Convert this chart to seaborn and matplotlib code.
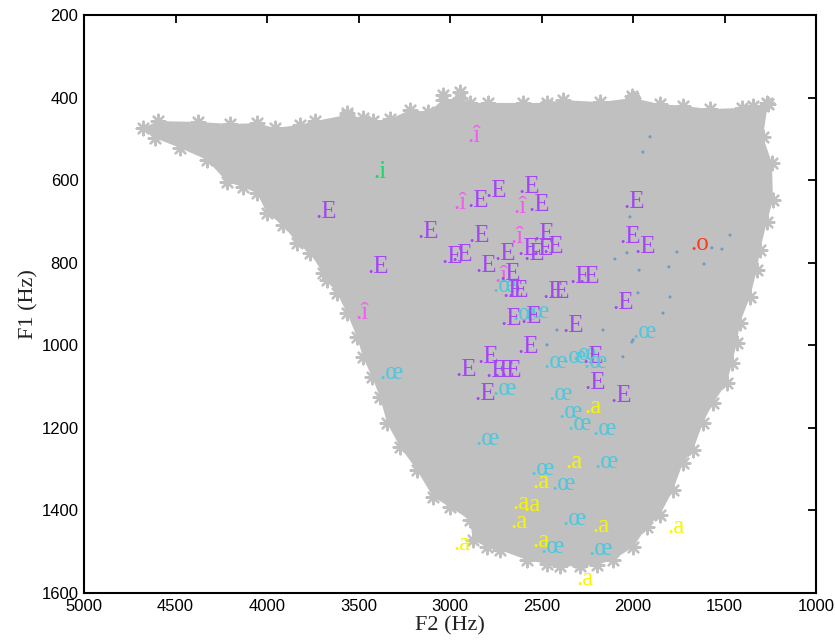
import numpy as np
import pandas as pd
import matplotlib
matplotlib.use("Agg")
import matplotlib.pyplot as plt
import seaborn as sns

# ---------------- data ----------------
# outline of the grey formant cloud (F2, F1) in Hz
cloud_f2 = [4678, 4596, 4377, 4202, 4055, 3956, 3820, 3738, 3563, 3476, 3421, 3328,
            3219, 3120, 3038, 2946, 2891, 2793, 2601, 2470, 2383, 2181, 2000, 1853,
            1727, 1580, 1405, 1263, 1290, 1241, 1235, 1268, 1306, 1323, 1361, 1416,
            1432, 1459, 1487, 1563, 1618, 1672, 1727, 1782, 1853, 1924, 2000, 2110,
            2197, 2290, 2399, 2470, 2579, 2727, 2798, 2875, 2891, 3000, 3093, 3181,
            3273, 3344, 3383, 3426, 3476, 3508, 3563, 3618, 3672, 3694, 3765, 3836,
            3913, 4000, 4055, 4131, 4219, 4328, 4475, 4612]
cloud_f1 = [474, 457, 459, 464, 462, 474, 466, 457, 442, 449, 457, 452,
            430, 435, 406, 401, 413, 413, 413, 413, 406, 411, 401, 416,
            420, 428, 425, 416, 495, 558, 648, 701, 769, 818, 883, 946,
            994, 1043, 1091, 1140, 1188, 1254, 1285, 1351, 1411, 1440, 1489, 1520,
            1532, 1535, 1535, 1530, 1520, 1496, 1489, 1472, 1423, 1392, 1367, 1302,
            1246, 1188, 1125, 1077, 1028, 980, 922, 873, 842, 825, 776, 752,
            709, 680, 631, 617, 604, 551, 522, 498]
# isolated stars sticking out of the cloud
extra_f2 = [3038, 2946, 2006, 1345, 1268, 3563, 2470, 2290]
extra_f1 = [394, 387, 396, 420, 413, 437, 420, 1525]

# vowel tokens
tok_f2 = [2907, 3421, 3738, 3181, 3454, 2984, 2907, 2809, 2629, 2656, 2574, 2055,
          2077, 1995, 1689, 2902, 3049, 2995, 2864, 2760, 2672, 2634, 2601, 2552,
          2497, 2547, 2760, 2732, 2771, 2716, 2689, 2497, 2465, 2345, 2301, 2727,
          2661, 2590, 2618, 2388, 2110, 2634, 2973, 2853, 2809, 2765, 2727, 2771,
          2869, 2492, 2388, 2334, 2279, 2273, 2263, 2126, 2006, 2465, 2410, 2263,
          2361, 2224, 2864, 2372, 2213, 2563, 2552, 2448, 2661, 2601, 2672, 2388,
          2224, 1814, 2984, 2552, 2508, 2246, 2312, 3519, 3388]
tok_f1 = [508, 595, 692, 740, 825, 670, 665, 641, 631, 680, 675, 667,
          752, 776, 769, 750, 801, 796, 822, 793, 752, 781, 793, 781,
          776, 745, 847, 842, 871, 883, 883, 885, 885, 849, 849, 951,
          939, 934, 946, 968, 912, 1019, 1074, 1043, 1077, 1077, 1077, 1120,
          1133, 1055, 1043, 1036, 1043, 1055, 1106, 1137, 982, 1133, 1176, 1164,
          1205, 1217, 1241, 1297, 1297, 1314, 1346, 1350, 1397, 1401, 1443, 1435,
          1452, 1455, 1496, 1489, 1503, 1508, 1581, 936, 1082]
tok_lab = ["î", "i", "E", "E", "E", "î", "E", "E", "E", "î", "E", "E",
           "E", "E", "o", "E", "E", "E", "E", "E", "î", "E", "E", "E",
           "E", "E", "î", "E", "œ", "E", "E", "E", "E", "E", "E", "E",
           "œ", "œ", "E", "E", "E", "E", "E", "E", "E", "E", "E", "œ",
           "E", "œ", "œ", "œ", "E", "œ", "E", "E", "œ", "œ", "œ", "a",
           "œ", "œ", "œ", "a", "œ", "œ", "a", "œ", "a", "a", "a", "œ",
           "a", "a", "a", "a", "œ", "œ", "a", "î", "œ"]

# tiny steel-blue marks
small_f2 = [2017, 2099, 2033, 1967, 1804, 1612, 1514, 1760, 1569, 1470, 1798,
            1836, 1973, 2164, 2006, 1907, 1946, 2416, 2470, 2055, 2000]
small_f1 = [689, 791, 776, 818, 810, 803, 767, 774, 764, 733, 883,
            922, 873, 963, 992, 495, 532, 963, 999, 1028, 987]

x_ticks = [5000, 4500, 4000, 3500, 3000, 2500, 2000, 1500, 1000]
y_ticks = [200, 400, 600, 800, 1000, 1200, 1400, 1600]

colors = {"E": "#A447F2", "œ": "#52C6DA", "a": "#F6F600", "î": "#F25CEE",
          "i": "#1ED36A", "o": "#FF3A1E"}
grey = "#C0C0C0"

# ---------------- figure ----------------
sns.set_theme(style="white")
plt.rcParams["font.family"] = ["Liberation Sans", "DejaVu Sans"]

fig = plt.figure(figsize=(8.35, 6.4), dpi=100)
ax = fig.add_axes([84 / 835, 1 - 593 / 640, (816 - 84) / 835, (593 - 15) / 640])

ax.fill(cloud_f2, cloud_f1, color=grey, lw=0, zorder=1)
stars = pd.DataFrame({"F2": cloud_f2 + extra_f2, "F1": cloud_f1 + extra_f1})
ax.scatter(stars["F2"], stars["F1"], marker=(8, 2, 0), s=95, color=grey,
           linewidths=1.7, zorder=2)

small = pd.DataFrame({"F2": small_f2, "F1": small_f1})
sns.scatterplot(data=small, x="F2", y="F1", ax=ax, s=5, color="#6E9CC6",
                edgecolor="none", zorder=3, legend=False)

for f2, f1, lab in zip(tok_f2, tok_f1, tok_lab):
    ax.text(f2, f1, "." + lab, color=colors[lab], fontsize=18,
            family=["Liberation Serif", "DejaVu Serif"],
            ha="left", va="baseline", zorder=4)

ax.set_xlim(5000, 1000)
ax.set_ylim(1600, 200)
ax.set_xticks(x_ticks)
ax.set_yticks(y_ticks)
ax.set_xticklabels([str(v) for v in x_ticks])
ax.set_yticklabels([str(v) for v in y_ticks])
ax.tick_params(direction="in", top=True, right=True, length=6, width=1.3,
               labelsize=12, colors="black", pad=4)
for lab in ax.get_xticklabels() + ax.get_yticklabels():
    lab.set_family(["Liberation Sans", "DejaVu Sans"])
for s in ax.spines.values():
    s.set_color("black")
    s.set_linewidth(1.5)
    s.set_visible(True)
ax.grid(False)
ax.set_facecolor("white")

ax.set_xlabel("F2 (Hz)", fontsize=16, family=["Liberation Serif", "DejaVu Serif"],
              labelpad=2, color="#222222")
ax.set_ylabel("F1 (Hz)", fontsize=16, family=["Liberation Serif", "DejaVu Serif"],
              labelpad=2, color="#222222")

fig.savefig("out.png", dpi=100, facecolor="white")
